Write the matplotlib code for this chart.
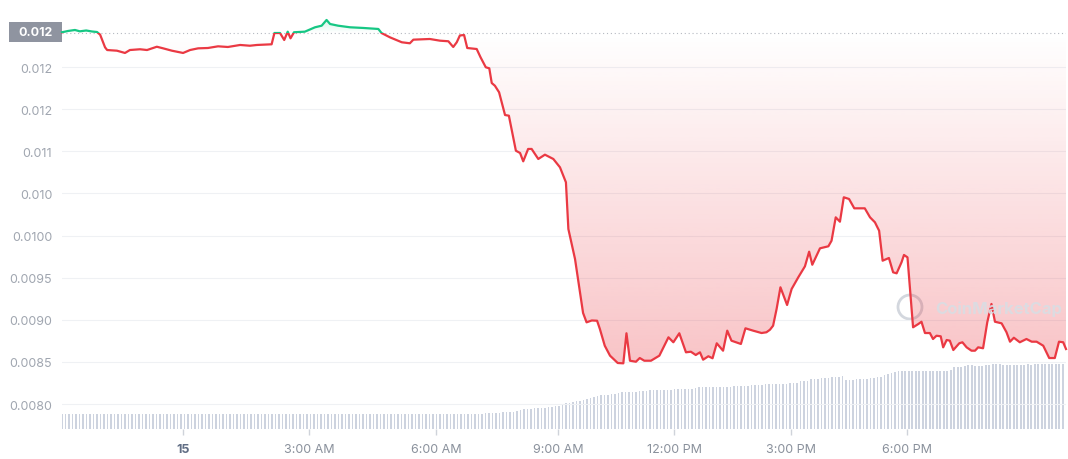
import numpy as np
import matplotlib
matplotlib.use('Agg')
import matplotlib.pyplot as plt
from matplotlib.path import Path
from matplotlib.patches import Rectangle, Circle
from matplotlib.transforms import IdentityTransform

plt.rcParams['font.family'] = ['Inter', 'DejaVu Sans']

# ---------------- data ----------------
# sample index (5-minute samples) and price in USD
sample_idx = [0, 1.7, 3.7, 5.1, 6.9, 8.6, 10.0, 10.9, 12.3, 12.9, 15.7, 18.0, 19.4, 22.3, 24.3,
              27.1, 28.9, 31.4, 34.6, 36.6, 38.9, 41.7, 44.6, 47.4, 50.9, 53.7, 55.7, 59.9,
              60.7, 62.3, 63.5, 64.5, 65.3, 66.3, 69.4, 72.3, 74.2, 75.6, 76.6, 78.9, 82.3,
              86.1, 90.4, 91.3, 93.7, 97.1, 99.4, 100.4, 105.1, 108.0, 110.4, 111.8, 112.8,
              113.7, 114.9, 115.8, 118.5, 119.6, 121.1, 122.1, 122.8, 123.7, 124.9, 126.6,
              127.7, 129.7, 130.9, 131.8, 133.2, 134.2, 136.1, 138.0, 140.4, 142.3, 144.0,
              144.7, 146.6, 148.0, 148.9, 149.9, 151.4, 152.9, 153.7, 155.1, 156.6, 158.8,
              160.4, 161.3, 162.3, 164.0, 165.1, 166.4, 168.3, 170.7, 172.1, 173.3, 174.7,
              176.4, 178.3, 179.7, 181.1, 182.3, 183.2, 184.7, 185.9, 187.1, 188.9, 190.1,
              191.3, 194.0, 195.3, 197.5, 199.9, 201.3, 202.3, 203.2, 204.2, 205.3, 207.2,
              208.5, 210.4, 212.3, 213.5, 214.4, 216.6, 219.0, 219.9, 221.1, 222.3, 223.4,
              224.9, 226.4, 229.4, 230.9, 232.3, 233.5, 234.5, 236.3, 237.5, 238.5, 239.9,
              240.6, 241.6, 243.2, 244.7, 245.6, 246.6, 248.0, 248.9, 249.9, 251.1, 251.8,
              252.8, 253.7, 254.7, 256.4, 257.3, 258.5, 259.9, 260.9, 261.8, 263.2, 264.4,
              265.6, 266.6, 268.5, 269.9, 270.9, 272.0, 273.7, 275.6, 277.1, 278.5, 280.4,
              282.1, 283.7, 284.9, 286.1, 286.9]
price = [0.012415, 0.012430, 0.012442, 0.012426, 0.012436, 0.012424, 0.012418, 0.012386,
         0.012236, 0.012204, 0.012196, 0.012169, 0.012204, 0.012213, 0.012204, 0.012243,
         0.012224, 0.012196, 0.012169, 0.012204, 0.012224, 0.012228, 0.012248, 0.012240,
         0.012264, 0.012255, 0.012264, 0.012272, 0.012406, 0.012406, 0.012323, 0.012422,
         0.012343, 0.012415, 0.012422, 0.012474, 0.012493, 0.012561, 0.012513, 0.012493,
         0.012474, 0.012466, 0.012454, 0.012406, 0.012355, 0.012296, 0.012284, 0.012327,
         0.012335, 0.012315, 0.012308, 0.012240, 0.012296, 0.012377, 0.012382, 0.012228,
         0.012216, 0.012118, 0.011999, 0.011987, 0.011812, 0.011780, 0.011702, 0.011432,
         0.011424, 0.011008, 0.010981, 0.010882, 0.011029, 0.011029, 0.010910, 0.010961,
         0.010910, 0.010811, 0.010633, 0.010078, 0.009722, 0.009327, 0.009081, 0.008970,
         0.008992, 0.008989, 0.008891, 0.008692, 0.008574, 0.008487, 0.008483, 0.008840,
         0.008514, 0.008502, 0.008546, 0.008514, 0.008514, 0.008574, 0.008692, 0.008792,
         0.008733, 0.008840, 0.008614, 0.008621, 0.008582, 0.008614, 0.008526, 0.008567,
         0.008543, 0.008721, 0.008633, 0.008871, 0.008752, 0.008713, 0.008899, 0.008871,
         0.008843, 0.008852, 0.008882, 0.008930, 0.009128, 0.009386, 0.009176, 0.009366,
         0.009505, 0.009635, 0.009809, 0.009654, 0.009849, 0.009873, 0.009939, 0.010217,
         0.010165, 0.010455, 0.010435, 0.010324, 0.010324, 0.010217, 0.010158, 0.010058,
         0.009702, 0.009734, 0.009564, 0.009552, 0.009683, 0.009770, 0.009742, 0.008911,
         0.008950, 0.008977, 0.008843, 0.008843, 0.008772, 0.008811, 0.008804, 0.008673,
         0.008760, 0.008752, 0.008641, 0.008721, 0.008733, 0.008673, 0.008633, 0.008633,
         0.008673, 0.008662, 0.008970, 0.009188, 0.008977, 0.008958, 0.008852, 0.008740,
         0.008787, 0.008733, 0.008772, 0.008740, 0.008740, 0.008692, 0.008546, 0.008546,
         0.008740, 0.008733, 0.008653]
open_price = 0.012404

# 24h volume (relative units), one bar per sample
volume = [150, 151, 150, 149, 150, 150, 151, 150, 150, 149,
          150, 150, 151, 150, 149, 150, 150, 150, 151, 150,
          150, 149, 150, 150, 150, 151, 150, 150, 149, 150,
          151, 150, 150, 150, 149, 150, 150, 151, 150, 150,
          150, 150, 149, 150, 151, 150, 150, 150, 150, 149,
          150, 151, 150, 150, 150, 149, 150, 150, 151, 150,
          150, 150, 150, 149, 150, 150, 151, 150, 150, 150,
          149, 150, 150, 151, 150, 150, 150, 149, 150, 150,
          151, 150, 150, 150, 149, 150, 150, 150, 151, 150,
          150, 149, 150, 150, 150, 151, 150, 150, 150, 149,
          150, 150, 151, 150, 150, 149, 150, 150, 150, 151,
          150, 150, 150, 149, 150, 151, 150, 150, 151,
          153, 155, 157, 160, 161, 163, 165, 167, 170, 172, 175,
          185, 195, 198, 200, 205, 207, 210, 212, 215, 218,
          222, 227, 235, 248, 257, 262, 270, 278, 285, 290,
          300, 310, 320, 330, 337, 340, 345, 350, 355, 360,
          367, 368, 370, 372, 375, 377, 380, 383, 387, 388,
          390, 391, 392, 393, 395, 396, 398, 400, 400, 403,
          405, 413, 417, 418, 419, 420, 421, 422, 422, 423,
          424, 425, 427, 428, 430, 432, 434, 437, 440, 442,
          445, 447, 448, 450, 450, 450, 451, 453, 457, 460,
          465, 477, 482, 485, 497, 500, 505, 510, 512, 515,
          518, 520, 525, 527, 490, 492, 495, 497, 500, 502,
          505, 510, 515, 517, 520, 540, 550, 560, 570, 577,
          577, 580, 580, 581, 580, 578, 580, 582, 583, 583,
          583, 585, 585, 585, 587, 617, 620, 625, 630, 640,
          640, 627, 628, 635, 640, 645, 647, 648, 648, 645,
          640, 645, 640, 645, 640, 645, 648, 645, 650, 648,
          650, 648, 650, 652, 650, 650, 655]

x_tick_pos = [34.6, 70.6, 106.9, 141.7, 174.9, 208.3, 241.5]
x_tick_labels = ['15', '3:00 AM', '6:00 AM', '9:00 AM', '12:00 PM', '3:00 PM', '6:00 PM']
y_tick_vals = [0.0080, 0.0085, 0.0090, 0.0095, 0.0100, 0.0105, 0.0110, 0.0115, 0.0120]
y_tick_labels = ['0.0080', '0.0085', '0.0090', '0.0095', '0.0100', '0.010', '0.011', '0.012', '0.012']

# ---------------- style ----------------
RED = '#ea3943'
GREEN = '#16c784'
Y_LO, Y_HI = 0.0077031, 0.0126912

fig = plt.figure(figsize=(10.68, 4.6), dpi=100)
fig.patch.set_facecolor('white')
ax = fig.add_axes([62 / 1068, 30 / 460, 1004 / 1068, 420 / 460])
ax2 = ax.twinx()

# volume bars
ax2.bar(np.arange(len(volume)), volume, width=0.5, color='#cdd3df', linewidth=0)
ax2.set_ylim(0, 4200)
ax2.axis('off')
ax.set_zorder(ax2.get_zorder() + 1)
ax.patch.set_visible(False)

x = np.array(sample_idx)
p = np.array(price)

# red gradient fill (below open)
fb_red = ax.fill_between(x, p, open_price, where=p <= open_price, interpolate=True,
                         facecolor='none', edgecolor='none')
red_path = Path.make_compound_path(*fb_red.get_paths())
rgb_r = np.array([234, 57, 67]) / 255
n = 300
grad = np.zeros((n, 1, 4))
grad[..., :3] = rgb_r
grad[:, 0, 3] = np.linspace(0.0, 0.36, n)
im = ax.imshow(grad, extent=[x.min(), x.max(), Y_LO, open_price], origin='upper',
               aspect='auto', zorder=1, interpolation='bilinear')
im.set_clip_path(red_path, transform=ax.transData)

# green gradient fill (above open)
fb_g = ax.fill_between(x, p, open_price, where=p >= open_price, interpolate=True,
                       facecolor='none', edgecolor='none')
g_path = Path.make_compound_path(*fb_g.get_paths())
rgb_g = np.array([22, 199, 132]) / 255
gradg = np.zeros((n, 1, 4))
gradg[..., :3] = rgb_g
gradg[:, 0, 3] = np.linspace(0.18, 0.0, n)
img = ax.imshow(gradg, extent=[x.min(), x.max(), open_price, 0.01257], origin='upper',
                aspect='auto', zorder=1, interpolation='bilinear')
img.set_clip_path(g_path, transform=ax.transData)

# price line coloured by position vs open
red_line, = ax.plot(x, p, color=RED, lw=1.6, zorder=3, solid_joinstyle='round')
red_line.set_clip_path(Rectangle((-10, 0), 400, open_price, transform=ax.transData))
green_line, = ax.plot(x, p, color=GREEN, lw=1.6, zorder=3, solid_joinstyle='round')
green_line.set_clip_path(Rectangle((-10, open_price), 400, 1, transform=ax.transData))

# dotted open line
ax.axhline(open_price, color='#b5b9c1', lw=0.8, ls=(0, (1, 2.5)), zorder=2)

ax.set_xlim(0, 286.9)
ax.set_ylim(Y_LO, Y_HI)
ax2.set_xlim(0, 286.9)

ax.set_yticks(y_tick_vals, y_tick_labels)
ax.yaxis.grid(True, color='#eff1f4', lw=0.8)
ax.set_axisbelow(True)
ax.tick_params(axis='y', length=0, pad=7, labelsize=9, labelcolor='#a0a6b0')

ax.set_xticks(x_tick_pos, x_tick_labels)
ax.tick_params(axis='x', length=4, width=1, color='#cfd3da', pad=6, labelsize=9,
               labelcolor='#8a919c')
lbls = ax.get_xticklabels()
lbls[0].set_fontweight('bold')
lbls[0].set_color('#616e85')

for s in ax.spines.values():
    s.set_visible(False)

# open price tag
fig.add_artist(Rectangle((9 / 1068, (460 - 43) / 460), 53 / 1068, 20 / 460,
                         transform=fig.transFigure, facecolor='#8f94a0', edgecolor='none'))
fig.text(35.5 / 1068, (460 - 33) / 460, '0.012', color='white', ha='center', va='center',
         fontsize=9, fontweight='bold')

# watermark
fig.add_artist(Circle((910, 460 - 308), 12, transform=IdentityTransform(), facecolor='none',
                      edgecolor='#d3d7de', lw=2))
fig.text(935 / 1068, (460 - 309) / 460, 'CoinMarketCap', color='#d9dde3', ha='left',
         va='center', fontsize=12, fontweight='bold', alpha=0.9)

fig.savefig('out.png', dpi=100, facecolor='white')
